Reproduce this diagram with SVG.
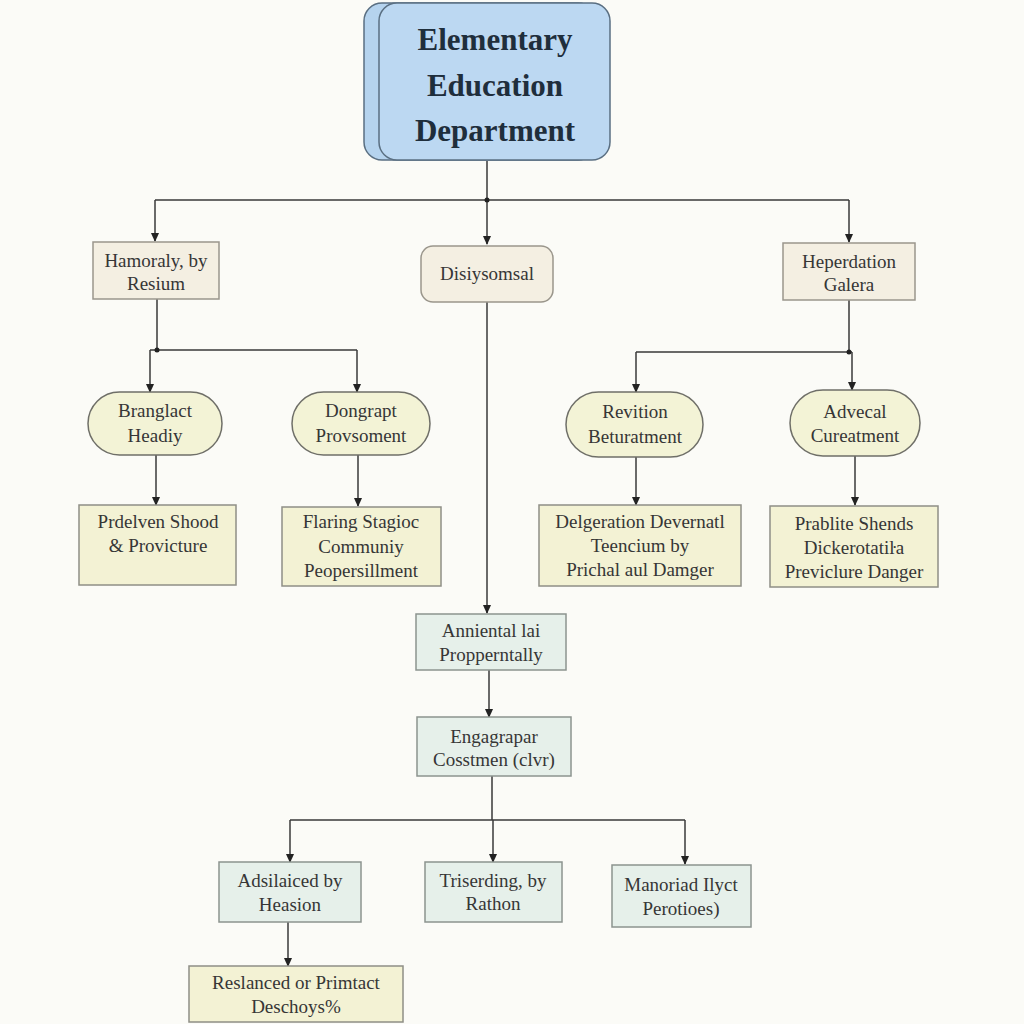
<svg xmlns="http://www.w3.org/2000/svg" width="1024" height="1024" viewBox="0 0 1024 1024">
<defs>
<style>
.t{font-family:"Liberation Serif","DejaVu Serif",serif;font-size:19px;fill:#363636;text-anchor:middle}
.h{font-family:"Liberation Serif","DejaVu Serif",serif;font-size:31px;font-weight:bold;fill:#1f2e3c;text-anchor:middle}
.beige{fill:#f4efe2;stroke:#9a968c;stroke-width:1.5}
.oval{fill:#f3f3d6;stroke:#6f6f68;stroke-width:1.5}
.yel{fill:#f3f2d4;stroke:#8f8f86;stroke-width:1.5}
.mint{fill:#e6f0ea;stroke:#8c948f;stroke-width:1.5}
.c{fill:none;stroke:#3a3a3a;stroke-width:1.5}
</style>
<marker id="d" markerWidth="10" markerHeight="10" refX="5" refY="9" markerUnits="userSpaceOnUse" viewBox="0 0 10 10">
<path d="M1,1 L9,1 L5,10 Z" fill="#222"/>
</marker>
</defs>
<rect width="1024" height="1024" fill="#fbfbf7"/>
<g id="connectors">
<path class="c" d="M487,161 V200 M155,200 H849"/>
<path class="c" d="M155,200 V241" marker-end="url(#d)"/>
<path class="c" d="M487,200 V244" marker-end="url(#d)"/>
<path class="c" d="M849,200 V242" marker-end="url(#d)"/>
<circle cx="487" cy="200" r="2.5" fill="#222"/>
<path class="c" d="M157,299 V350 M150,350 H357"/>
<circle cx="157" cy="350" r="2.5" fill="#222"/>
<path class="c" d="M150,350 V392" marker-end="url(#d)"/>
<path class="c" d="M357,350 V392" marker-end="url(#d)"/>
<path class="c" d="M849,300 V352 M636,352 H852"/>
<circle cx="849" cy="352" r="2.5" fill="#222"/>
<path class="c" d="M636,352 V392" marker-end="url(#d)"/>
<path class="c" d="M852,352 V390" marker-end="url(#d)"/>
<path class="c" d="M156,455 V505" marker-end="url(#d)"/>
<path class="c" d="M358,455 V506" marker-end="url(#d)"/>
<path class="c" d="M636,457 V505" marker-end="url(#d)"/>
<path class="c" d="M855,456 V505" marker-end="url(#d)"/>
<path class="c" d="M487,302 V613" marker-end="url(#d)"/>
<path class="c" d="M489,670 V717" marker-end="url(#d)"/>
<path class="c" d="M492,776 V820 M290,820 H685"/>
<path class="c" d="M290,820 V862" marker-end="url(#d)"/>
<path class="c" d="M493,820 V862" marker-end="url(#d)"/>
<path class="c" d="M685,820 V864" marker-end="url(#d)"/>
<path class="c" d="M288,922 V966" marker-end="url(#d)"/>
</g>
<g id="n-root">
<rect x="364" y="3" width="232" height="157" rx="18" fill="#b5d3ee" stroke="#5a6f82" stroke-width="1.5"/>
<rect x="379" y="3" width="231" height="157" rx="18" fill="#bcd8f2" stroke="#5a6f82" stroke-width="1.5"/>
<text class="h" x="495" y="50">Elementary</text>
<text class="h" x="495" y="96">Education</text>
<text class="h" x="495" y="141">Department</text>
</g>
<g id="n-hamoraly">
<rect class="beige" x="93" y="242" width="126" height="57"/>
<text class="t" x="156" y="267">Hamoraly, by</text>
<text class="t" x="156" y="290">Resium</text>
</g>
<g id="n-disiysomsal">
<rect class="beige" x="421" y="246" width="132" height="56" rx="12"/>
<text class="t" x="487" y="280">Disiysomsal</text>
</g>
<g id="n-heperdation">
<rect class="beige" x="783" y="243" width="132" height="57"/>
<text class="t" x="849" y="268">Heperdation</text>
<text class="t" x="849" y="291">Galera</text>
</g>
<g id="n-branglact">
<rect class="oval" x="88" y="392" width="134" height="63" rx="31.5"/>
<text class="t" x="155" y="417">Branglact</text>
<text class="t" x="155" y="442">Headiy</text>
</g>
<g id="n-dongrapt">
<rect class="oval" x="292" y="392" width="138" height="63" rx="31.5"/>
<text class="t" x="361" y="417">Dongrapt</text>
<text class="t" x="361" y="442">Provsoment</text>
</g>
<g id="n-revition">
<rect class="oval" x="566" y="392" width="137" height="65" rx="32.5"/>
<text class="t" x="635" y="418">Revition</text>
<text class="t" x="635" y="443">Beturatment</text>
</g>
<g id="n-advecal">
<rect class="oval" x="790" y="390" width="130" height="66" rx="33"/>
<text class="t" x="855" y="418">Advecal</text>
<text class="t" x="855" y="442">Cureatment</text>
</g>
<g id="n-prdelven">
<rect class="yel" x="79" y="505" width="157" height="80"/>
<text class="t" x="158" y="528">Prdelven Shood</text>
<text class="t" x="158" y="552">&amp; Provicture</text>
</g>
<g id="n-flaring">
<rect class="yel" x="282" y="507" width="159" height="79"/>
<text class="t" x="361" y="528">Flaring Stagioc</text>
<text class="t" x="361" y="553">Communiy</text>
<text class="t" x="361" y="577">Peopersillment</text>
</g>
<g id="n-delgeration">
<rect class="yel" x="539" y="505" width="202" height="81"/>
<text class="t" x="640" y="528">Delgeration Devernatl</text>
<text class="t" x="640" y="552">Teencium by</text>
<text class="t" x="640" y="576">Prichal aul Damger</text>
</g>
<g id="n-prablite">
<rect class="yel" x="770" y="506" width="168" height="81"/>
<text class="t" x="854" y="530">Prablite Shends</text>
<text class="t" x="854" y="554">Dickerotatiŀa</text>
<text class="t" x="854" y="578">Previclure Danger</text>
</g>
<g id="n-anniental">
<rect class="mint" x="416" y="614" width="150" height="56"/>
<text class="t" x="491" y="637">Anniental lai</text>
<text class="t" x="491" y="661">Propperntally</text>
</g>
<g id="n-engagrapar">
<rect class="mint" x="417" y="717" width="154" height="59"/>
<text class="t" x="494" y="743">Engagrapar</text>
<text class="t" x="494" y="766">Cosstmen (clvr)</text>
</g>
<g id="n-adsilaiced">
<rect class="mint" x="219" y="862" width="142" height="60"/>
<text class="t" x="290" y="887">Adsilaiced by</text>
<text class="t" x="290" y="911">Heasion</text>
</g>
<g id="n-triserding">
<rect class="mint" x="425" y="862" width="137" height="60"/>
<text class="t" x="493" y="887">Triserding, by</text>
<text class="t" x="493" y="910">Rathon</text>
</g>
<g id="n-manoriad">
<rect class="mint" x="612" y="865" width="139" height="62"/>
<text class="t" x="681" y="891">Manoriad Ilyct</text>
<text class="t" x="681" y="915">Perotioes)</text>
</g>
<g id="n-reslanced">
<rect class="yel" x="189" y="966" width="214" height="56"/>
<text class="t" x="296" y="989">Reslanced or Primtact</text>
<text class="t" x="296" y="1013">Deschoys%</text>
</g>
</svg>
